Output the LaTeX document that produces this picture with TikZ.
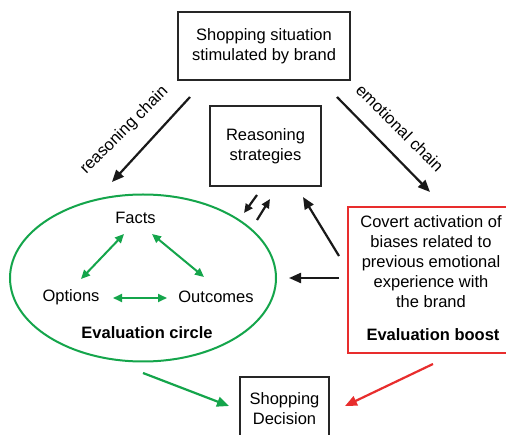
\documentclass[tikz,border=0pt]{standalone}
\usepackage{fontspec}
\setmainfont{Liberation Sans}
\usetikzlibrary{arrows.meta,shapes.geometric}
\definecolor{mygreen}{RGB}{20,165,75}
\definecolor{myred}{RGB}{232,45,45}
\tikzset{
  every node/.style={font=\fontsize{16.5}{20}\selectfont, inner sep=0pt},
  blackbox/.style={draw=black!85, line width=1.8pt},
  bigarrow/.style={line width=2.2pt, draw=black!90, -{Triangle[length=12pt,width=10pt]}},
  smallarrow/.style={line width=2.2pt, draw=black!90, -{Triangle[length=9pt,width=8pt]}},
  greenarrow/.style={line width=2pt, draw=mygreen, {Triangle[length=9pt,width=8pt]}-{Triangle[length=9pt,width=8pt]}},
}
\begin{document}
\begin{tikzpicture}[x=1pt,y=-1pt]
\useasboundingbox (0,0) rectangle (506,435);
\fill[white] (0,0) rectangle (506,435);
\clip (0,0) rectangle (506,435);

% boxes
\node[blackbox, minimum width=172pt, minimum height=68pt, align=center] (top) at (264,46) {Shopping situation\\stimulated by brand};
\node[blackbox, minimum width=111pt, minimum height=80pt, align=center] (rs) at (265.5,146) {Reasoning\\strategies};
\node[draw=myred, line width=1.6pt, minimum width=170pt, minimum height=146pt] (rb) at (433,280) {};
\node[align=center] (rbtext) at (431,262) {Covert activation of\\biases related to\\previous emotional\\experience with\\the brand};
\node[font=\fontsize{16.5}{20}\selectfont\bfseries] (boost) at (433,335) {Evaluation boost};
\node[blackbox, minimum width=89pt, minimum height=64pt, align=center] (dec) at (284.5,409) {Shopping\\Decision};

% ellipse
\node[draw=mygreen, line width=2pt, ellipse, minimum width=266pt, minimum height=167pt] (circ) at (143,278) {};
\node (facts) at (135.5,218) {Facts};
\node (options) at (71,297) {Options};
\node (outcomes) at (216,297) {Outcomes};
\node[font=\fontsize{16.5}{20}\selectfont\bfseries] (evalc) at (147,333) {Evaluation circle};

% labels
\node[rotate=45] (lrc) at (124.5,130.5) {reasoning chain};
\node[rotate=-45] (lec) at (400,128) {emotional chain};

% coordinates
\coordinate (a1s) at (190,97);  \coordinate (a1e) at (112,182);
\coordinate (a2s) at (337,97);  \coordinate (a2e) at (430,192);
\coordinate (a3s) at (257,195); \coordinate (a3e) at (244,213);
\coordinate (a4s) at (257,220); \coordinate (a4e) at (270,199);
\coordinate (a5s) at (339,256); \coordinate (a5e) at (303,197);
\coordinate (a6s) at (339,278); \coordinate (a6e) at (289,278);
\coordinate (g1s) at (124,234); \coordinate (g1e) at (81,279);
\coordinate (g2s) at (152,234); \coordinate (g2e) at (204,277);
\coordinate (g3s) at (113,298); \coordinate (g3e) at (167,298);
\coordinate (g4s) at (143,373); \coordinate (g4e) at (229,406);
\coordinate (r1s) at (433,364); \coordinate (r1e) at (345,406);

\draw[bigarrow] (a1s) -- (a1e);
\draw[bigarrow] (a2s) -- (a2e);
\draw[smallarrow] (a3s) -- (a3e);
\draw[smallarrow] (a4s) -- (a4e);
\draw[bigarrow] (a5s) -- (a5e);
\draw[bigarrow] (a6s) -- (a6e);
\draw[greenarrow] (g1s) -- (g1e);
\draw[greenarrow] (g2s) -- (g2e);
\draw[greenarrow] (g3s) -- (g3e);
\draw[line width=2.2pt, draw=mygreen, -{Triangle[length=12pt,width=10pt]}] (g4s) -- (g4e);
\draw[line width=2.2pt, draw=myred, -{Triangle[length=12pt,width=10pt]}] (r1s) -- (r1e);
\end{tikzpicture}
\end{document}
